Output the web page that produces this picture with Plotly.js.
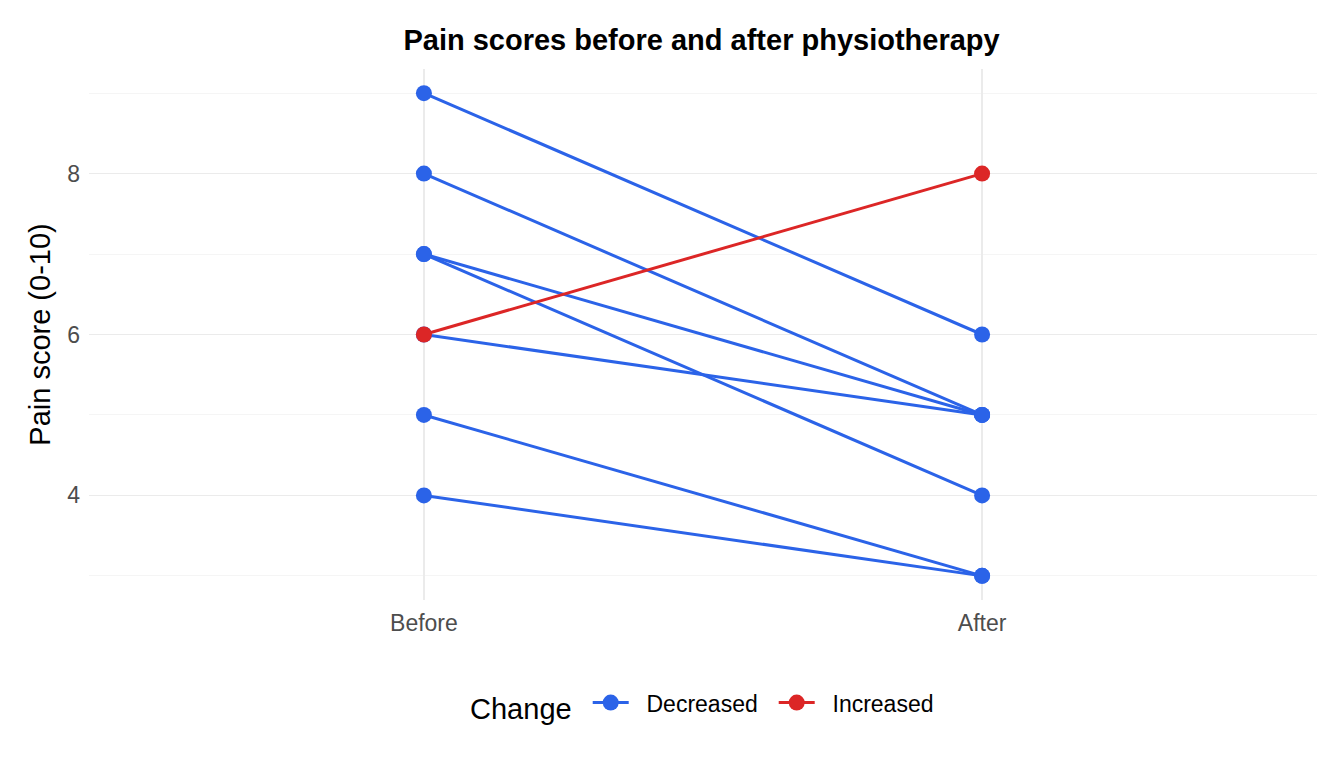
<!DOCTYPE html>
<html>
<head>
<meta charset="utf-8">
<script src="https://cdn.plot.ly/plotly-3.0.1.min.js"></script>
<style>html,body{margin:0;padding:0;background:#fff;}#chart{width:1344px;height:768px;}</style>
</head>
<body>
<div id="chart"></div>
<script>
// Data
const timeLabels = ["Before", "After"];
const beforeScores = [9, 8, 7, 7, 6, 6, 5, 4];
const afterScores  = [6, 5, 5, 4, 5, 8, 3, 3];
const changeCats = ["Decreased", "Increased"];
const changeColors = {"Decreased": "#2B63E8", "Increased": "#DC2626"};

const traces = [];
const shown = {};
for (let i = 0; i < beforeScores.length; i++) {
  const cat = afterScores[i] > beforeScores[i] ? "Increased" : "Decreased";
  traces.push({
    type: "scatter",
    mode: "lines+markers",
    x: [1, 2],
    y: [beforeScores[i], afterScores[i]],
    line: {color: changeColors[cat], width: 3},
    marker: {color: changeColors[cat], size: 16},
    name: "\u00a0\u00a0" + cat,
    legendgroup: cat,
    showlegend: !shown[cat],
    legendrank: changeCats.indexOf(cat) + 1,
    hoverinfo: "x+y"
  });
  shown[cat] = true;
}
// Draw red on top
traces.sort((a, b) => (a.legendgroup === "Increased") - (b.legendgroup === "Increased"));

const layout = {
  width: 1344, height: 768,
  paper_bgcolor: "#fff", plot_bgcolor: "#fff",
  font: {family: "Liberation Sans, Arial, sans-serif", color: "#000"},
  margin: {l: 89, r: 27, t: 69, b: 168},
  title: {text: "<b>Pain scores before and after physiotherapy</b>", x: 0.522, xanchor: "center", y: 0.948, yanchor: "middle", font: {size: 29, color: "#000"}},
  xaxis: {
    range: [0.4, 2.6], tickvals: [1, 2], ticktext: timeLabels,
    showgrid: true, gridcolor: "#EBEBEB", gridwidth: 1.3, zeroline: false, showline: false,
    ticks: "", tickfont: {size: 23, color: "#4D4D4D"}, ticklabelstandoff: 7
  },
  yaxis: {
    range: [2.7, 9.3], tick0: 0, dtick: 2,
    showgrid: true, gridcolor: "#EBEBEB", gridwidth: 1.3, zeroline: false, showline: false,
    ticks: "", tickfont: {size: 23, color: "#4D4D4D"}, ticklabelstandoff: 8,
    minor: {dtick: 1, tick0: 0, showgrid: true, gridcolor: "#F2F2F2", gridwidth: 0.8},
    title: {text: "Pain score (0-10)", font: {size: 29, color: "#000"}, standoff: 8}
  },
  legend: {
    orientation: "h", x: 0.509, xanchor: "center", y: -0.198, yanchor: "middle",
    title: {text: "Change ", font: {size: 29, color: "#000"}, side: "left"},
    font: {size: 23, color: "#000"}, itemwidth: 36, entrywidth: 135
  },
  showlegend: true
};

Plotly.newPlot("chart", traces, layout, {displayModeBar: false, staticPlot: true});
</script>
</body>
</html>
